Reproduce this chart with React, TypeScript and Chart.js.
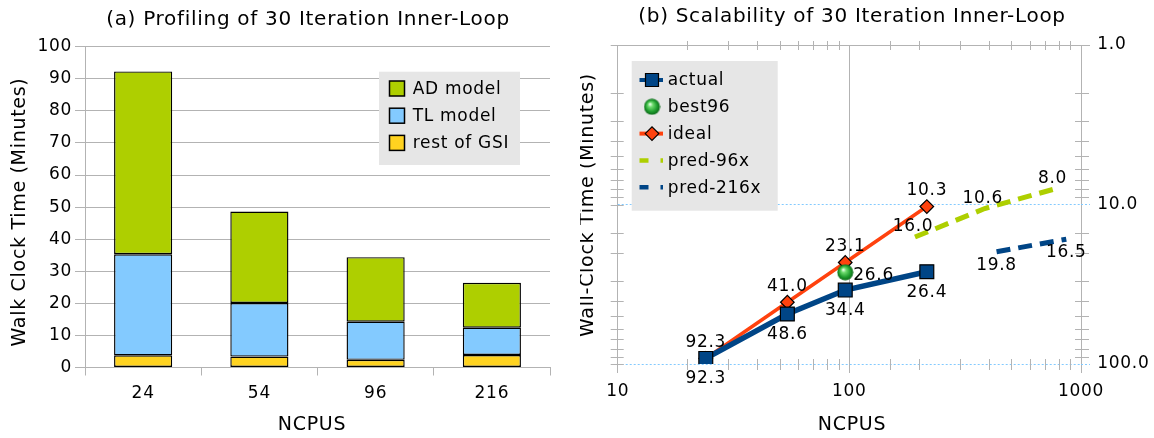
import React, { useEffect, useRef } from 'react';
import { Chart, registerables } from 'chart.js';

Chart.register(...registerables);

// ---------- data ----------
const cpuLabels = ['24', '54', '96', '216'];
const restOfGsi = [3.8, 3.4, 2.4, 3.9];
const tlModel = [31.5, 16.7, 11.9, 8.5];
const adModel = [57.0, 28.5, 20.1, 14.0];

const cpus = [24, 54, 96, 216];
const actualTimes = [92.3, 48.6, 34.4, 26.4];
const idealTimes = [92.3, 41.0, 23.1, 10.3];
const best96Cpus = [96];
const best96Times = [26.6];
const pred96Cpus = [192, 384, 768];
const pred96Times = [16.0, 10.6, 8.0];
const pred216Cpus = [432, 864];
const pred216Times = [19.8, 16.5];

// ---------- styles ----------
const FONT = '"DejaVu Sans", "Verdana", sans-serif';
const GRID = '#b3b3b3';
const DOT_BLUE = '#83caff';
const C_AD = '#aecf00';
const C_TL = '#83caff';
const C_REST = '#ffd320';
const C_BLUE = '#004586';
const C_ORANGE = '#ff420e';
const LEGEND_BG = '#e6e6e6';
const SPACING = '0.7px';

const pts = (xs: number[], ys: number[]) => xs.map((x, i) => ({ x, y: ys[i] }));
const isDecade = (v: number) => Math.abs(Math.log10(v) - Math.round(Math.log10(v))) < 1e-9;

const letterSpacing = {
  id: 'letterSpacing',
  beforeDraw(chart: any) {
    (chart.ctx as any).letterSpacing = SPACING;
  },
};

type Caption = { text: string; x: number; y: number; size: number; rotate?: number };
const makeCaptions = (items: Caption[]) => ({
  id: 'captions',
  afterDraw(chart: any) {
    const ctx = chart.ctx;
    items.forEach((it) => {
      ctx.save();
      ctx.letterSpacing = SPACING;
      ctx.font = `${it.size}px ${FONT}`;
      ctx.fillStyle = '#000';
      ctx.textAlign = 'center';
      ctx.textBaseline = 'middle';
      ctx.translate(it.x, it.y);
      if (it.rotate) ctx.rotate(it.rotate);
      ctx.fillText(it.text, 0, 0);
      ctx.restore();
    });
  },
});

const barLegend = {
  id: 'barLegend',
  afterDatasetsDraw(chart: any) {
    const ctx = chart.ctx;
    const ds = chart.data.datasets.slice().reverse();
    ctx.save();
    ctx.letterSpacing = SPACING;
    ctx.fillStyle = LEGEND_BG;
    ctx.fillRect(379, 71.7, 141, 93.3);
    ds.forEach((d: any, i: number) => {
      const cy = 88.5 + i * 27.2;
      ctx.fillStyle = d.backgroundColor;
      ctx.fillRect(389.5, cy - 7.5, 15, 15);
      ctx.strokeStyle = '#000';
      ctx.lineWidth = 1.5;
      ctx.strokeRect(389.5, cy - 7.5, 15, 15);
      ctx.fillStyle = '#000';
      ctx.font = `17px ${FONT}`;
      ctx.textBaseline = 'middle';
      ctx.textAlign = 'left';
      ctx.fillText(d.label, 412.7, cy + 1);
    });
    ctx.restore();
  },
};

function drawMarker(ctx: CanvasRenderingContext2D, style: any, x: number, y: number, r: number, fill: string, stroke: string, bw: number) {
  if (style && typeof style !== 'string') {
    ctx.drawImage(style, x - style.width / 2, y - style.height / 2);
    return;
  }
  ctx.beginPath();
  if (style === 'rect') {
    const h = r * Math.SQRT1_2;
    ctx.rect(x - h, y - h, 2 * h, 2 * h);
  } else if (style === 'rectRot') {
    ctx.moveTo(x - r, y);
    ctx.lineTo(x, y - r);
    ctx.lineTo(x + r, y);
    ctx.lineTo(x, y + r);
    ctx.closePath();
  } else {
    ctx.arc(x, y, r, 0, Math.PI * 2);
  }
  ctx.fillStyle = fill;
  ctx.fill();
  if (bw) {
    ctx.lineWidth = bw;
    ctx.strokeStyle = stroke;
    ctx.stroke();
  }
}

const lineLegend = {
  id: 'lineLegend',
  afterDatasetsDraw(chart: any) {
    const ctx = chart.ctx;
    ctx.save();
    ctx.letterSpacing = SPACING;
    ctx.fillStyle = LEGEND_BG;
    ctx.fillRect(51.7, 61, 146, 149.7);
    chart.data.datasets.forEach((d: any, i: number) => {
      const cy = 80 + i * 26.8;
      if (d.showLine !== false) {
        ctx.save();
        ctx.beginPath();
        ctx.strokeStyle = d.borderColor;
        ctx.lineWidth = d.borderDash ? 4.5 : 4;
        ctx.setLineDash(d.borderDash ? [9, 12] : []);
        ctx.lineCap = 'butt';
        ctx.moveTo(59.5, cy);
        ctx.lineTo(83, cy);
        ctx.stroke();
        ctx.restore();
      }
      if ((d.pointRadius ?? 3) > 0) {
        const r = d.pointStyle === 'rect' ? 9.2 : 6.8;
        drawMarker(ctx, d.pointStyle, 72, cy, r, d.pointBackgroundColor, d.pointBorderColor, d.pointBorderWidth || 0);
      }
      ctx.fillStyle = '#000';
      ctx.font = `17px ${FONT}`;
      ctx.textBaseline = 'middle';
      ctx.textAlign = 'left';
      ctx.fillText(d.label, 87.7, cy + 1);
    });
    ctx.restore();
  },
};

const frameTicks = {
  id: 'frameTicks',
  beforeDatasetsDraw(chart: any) {
    const { ctx, chartArea: a } = chart;
    const xs = chart.scales.x;
    const ys = chart.scales.y;
    ctx.save();
    ctx.strokeStyle = GRID;
    ctx.lineWidth = 1;
    ctx.beginPath();
    xs.ticks.forEach((t: any) => {
      if (isDecade(t.value)) return;
      const px = Math.round(xs.getPixelForValue(t.value)) + 0.5;
      ctx.moveTo(px, a.top - 4);
      ctx.lineTo(px, a.top + 5);
      ctx.moveTo(px, a.bottom - 5);
      ctx.lineTo(px, a.bottom + 6);
    });
    ys.ticks.forEach((t: any) => {
      const py = Math.round(ys.getPixelForValue(t.value)) + 0.5;
      ctx.moveTo(a.left - 7, py);
      ctx.lineTo(a.left + 6, py);
      if (!isDecade(t.value)) {
        ctx.moveTo(a.right - 6, py);
        ctx.lineTo(a.right + 8, py);
      }
    });
    ctx.stroke();
    ctx.restore();
  },
};

const labelSpecs: Record<string, { dx: number; dy: number; align: CanvasTextAlign }> = {
  actual: { dx: 0, dy: 20.5, align: 'center' },
  best96: { dx: 8, dy: 3, align: 'left' },
  ideal: { dx: 0, dy: -16, align: 'center' },
  'pred-96x': { dx: -2, dy: -10, align: 'center' },
  'pred-216x': { dx: 0, dy: 13.5, align: 'center' },
};

const valueLabels = {
  id: 'valueLabels',
  afterDatasetsDraw(chart: any) {
    const ctx = chart.ctx;
    ctx.save();
    ctx.letterSpacing = SPACING;
    ctx.font = `17px ${FONT}`;
    ctx.fillStyle = '#000';
    ctx.textBaseline = 'middle';
    chart.data.datasets.forEach((ds: any, di: number) => {
      const spec = labelSpecs[ds.label];
      if (!spec) return;
      ctx.textAlign = spec.align;
      const meta = chart.getDatasetMeta(di);
      meta.data.forEach((el: any, i: number) => {
        const v = ds.data[i].y;
        ctx.fillText(v.toFixed(1), el.x + spec.dx, el.y + spec.dy);
      });
    });
    ctx.restore();
  },
};

function makeSphere(r: number) {
  const c = document.createElement('canvas');
  const s = Math.ceil(r * 2) + 1;
  c.width = s;
  c.height = s;
  const g = c.getContext('2d')!;
  const grad = g.createRadialGradient(s * 0.38, s * 0.34, 0.5, s / 2, s / 2, r);
  grad.addColorStop(0, '#e8ffe8');
  grad.addColorStop(0.25, '#6fdc6f');
  grad.addColorStop(0.7, '#1f9d2e');
  grad.addColorStop(1, '#0c6a18');
  g.fillStyle = grad;
  g.beginPath();
  g.arc(s / 2, s / 2, r, 0, Math.PI * 2);
  g.fill();
  return c;
}

function LeftChart() {
  const ref = useRef<HTMLCanvasElement>(null);
  useEffect(() => {
    const tickFont = { family: FONT, size: 17 };
    const chart = new Chart(ref.current!, {
      type: 'bar',
      data: {
        labels: cpuLabels,
        datasets: [
          { label: 'rest of GSI', data: restOfGsi, backgroundColor: C_REST },
          { label: 'TL model', data: tlModel, backgroundColor: C_TL },
          { label: 'AD model', data: adModel, backgroundColor: C_AD },
        ].map((d) => ({ ...d, borderColor: '#000', borderWidth: 1.4, borderSkipped: false, barPercentage: 0.5, categoryPercentage: 1 })),
      },
      options: {
        responsive: false,
        animation: false,
        events: [],
        layout: { padding: { top: 46.7, right: 30, left: 0, bottom: 0 } },
        plugins: { legend: { display: false }, tooltip: { enabled: false }, title: { display: false } },
        scales: {
          x: {
            stacked: true,
            grid: { offset: true, color: (c: any) => (c.index === cpuLabels.length ? GRID : 'transparent'), tickColor: GRID, tickLength: 8 },
            border: { display: true, color: GRID },
            ticks: { color: '#000', font: tickFont, padding: 8 },
            afterFit: (s: any) => { s.height = 70.5; },
          },
          y: {
            stacked: true,
            min: 0,
            max: 100,
            grid: { color: GRID, tickLength: 10 },
            border: { display: true, color: GRID },
            ticks: { stepSize: 10, color: '#000', font: tickFont, padding: 3 },
            afterFit: (s: any) => { s.width = 85; },
          },
        },
      },
      plugins: [
        letterSpacing,
        barLegend,
        makeCaptions([
          { text: '(a) Profiling of 30 Iteration Inner-Loop', x: 308, y: 20, size: 20 },
          { text: 'Walk Clock Time (Minutes)', x: 20, y: 212, size: 19, rotate: -Math.PI / 2 },
          { text: 'NCPUS', x: 312, y: 425, size: 19 },
        ]),
      ],
    } as any);
    return () => chart.destroy();
  }, []);
  return <canvas ref={ref} width={580} height={438} style={{ position: 'absolute', left: 0, top: 0, display: 'block' }} />;
}

function RightChart() {
  const ref = useRef<HTMLCanvasElement>(null);
  useEffect(() => {
    const tickFont = { family: FONT, size: 17 };
    const sphere = makeSphere(8);
    const yGridColor = (c: any) => {
      const v = c.tick?.value;
      if (v == null) return 'transparent';
      if (Math.abs(v - 1) < 1e-9) return GRID;
      return isDecade(v) ? DOT_BLUE : 'transparent';
    };
    const yGridDash = (c: any) => {
      const v = c.tick?.value;
      return v != null && isDecade(v) && Math.abs(v - 1) > 1e-9 ? [2, 2] : [];
    };
    const chart = new Chart(ref.current!, {
      type: 'line',
      data: {
        datasets: [
          {
            label: 'actual', data: pts(cpus, actualTimes), borderColor: C_BLUE, backgroundColor: C_BLUE, borderWidth: 5.5,
            pointStyle: 'rect', pointRadius: 9.8, pointBackgroundColor: C_BLUE, pointBorderColor: '#000', pointBorderWidth: 1.2,
          },
          {
            label: 'best96', data: pts(best96Cpus, best96Times), showLine: false, pointStyle: sphere, pointRadius: 8,
            pointBackgroundColor: '#1f9d2e', pointBorderColor: '#1f9d2e', pointBorderWidth: 0,
          },
          {
            label: 'ideal', data: pts(cpus, idealTimes), borderColor: C_ORANGE, backgroundColor: C_ORANGE, borderWidth: 3.5,
            pointStyle: 'rectRot', pointRadius: 6.8, pointBackgroundColor: C_ORANGE, pointBorderColor: '#000', pointBorderWidth: 1.2,
          },
          {
            label: 'pred-96x', data: pts(pred96Cpus, pred96Times), borderColor: C_AD, backgroundColor: C_AD, borderWidth: 5,
            borderDash: [14, 8], pointRadius: 0,
          },
          {
            label: 'pred-216x', data: pts(pred216Cpus, pred216Times), borderColor: C_BLUE, backgroundColor: C_BLUE, borderWidth: 5,
            borderDash: [14, 8], pointRadius: 0,
          },
        ],
      },
      options: {
        responsive: false,
        animation: false,
        events: [],
        layout: { padding: { top: 45, right: 0, left: 37.7, bottom: 0 } },
        plugins: { legend: { display: false }, tooltip: { enabled: false }, title: { display: false } },
        scales: {
          x: {
            type: 'logarithmic',
            min: 10,
            max: 1000,
            position: 'bottom',
            grid: { color: (c: any) => (c.tick && isDecade(c.tick.value) ? GRID : 'transparent'), tickLength: 9 },
            border: { display: false },
            ticks: {
              autoSkip: false, maxRotation: 0, padding: 8.5, color: '#000', font: tickFont,
              callback: (v: any) => (isDecade(Number(v)) ? String(Number(v)) : ''),
            },
            afterFit: (s: any) => { s.height = 74; },
          },
          y: {
            type: 'logarithmic',
            min: 1,
            max: 100,
            reverse: true,
            position: 'right',
            grid: { color: yGridColor, tickColor: yGridColor, tickBorderDash: yGridDash, tickLength: 9 },
            border: { display: false, dash: yGridDash },
            ticks: {
              autoSkip: false, padding: 7.3, color: '#000', font: tickFont,
              callback: (v: any) => (isDecade(Number(v)) ? Number(v).toFixed(1) : ''),
            },
            afterFit: (s: any) => { s.width = 73; },
          },
        },
      },
      plugins: [
        letterSpacing,
        frameTicks,
        valueLabels,
        lineLegend,
        makeCaptions([
          { text: '(b) Scalability of 30 Iteration Inner-Loop', x: 272, y: 17, size: 20 },
          { text: 'Wall-Clock Time (Minutes)', x: 8.5, y: 205, size: 19, rotate: -Math.PI / 2 },
          { text: 'NCPUS', x: 272, y: 425, size: 19 },
        ]),
      ],
    } as any);
    return () => chart.destroy();
  }, []);
  return <canvas ref={ref} width={574} height={438} style={{ position: 'absolute', left: 580, top: 0, display: 'block' }} />;
}

export default function App() {
  return (
    <div style={{ position: 'absolute', left: 0, top: 0, width: 1154, height: 438, background: '#fff' }}>
      <LeftChart />
      <RightChart />
    </div>
  );
}
